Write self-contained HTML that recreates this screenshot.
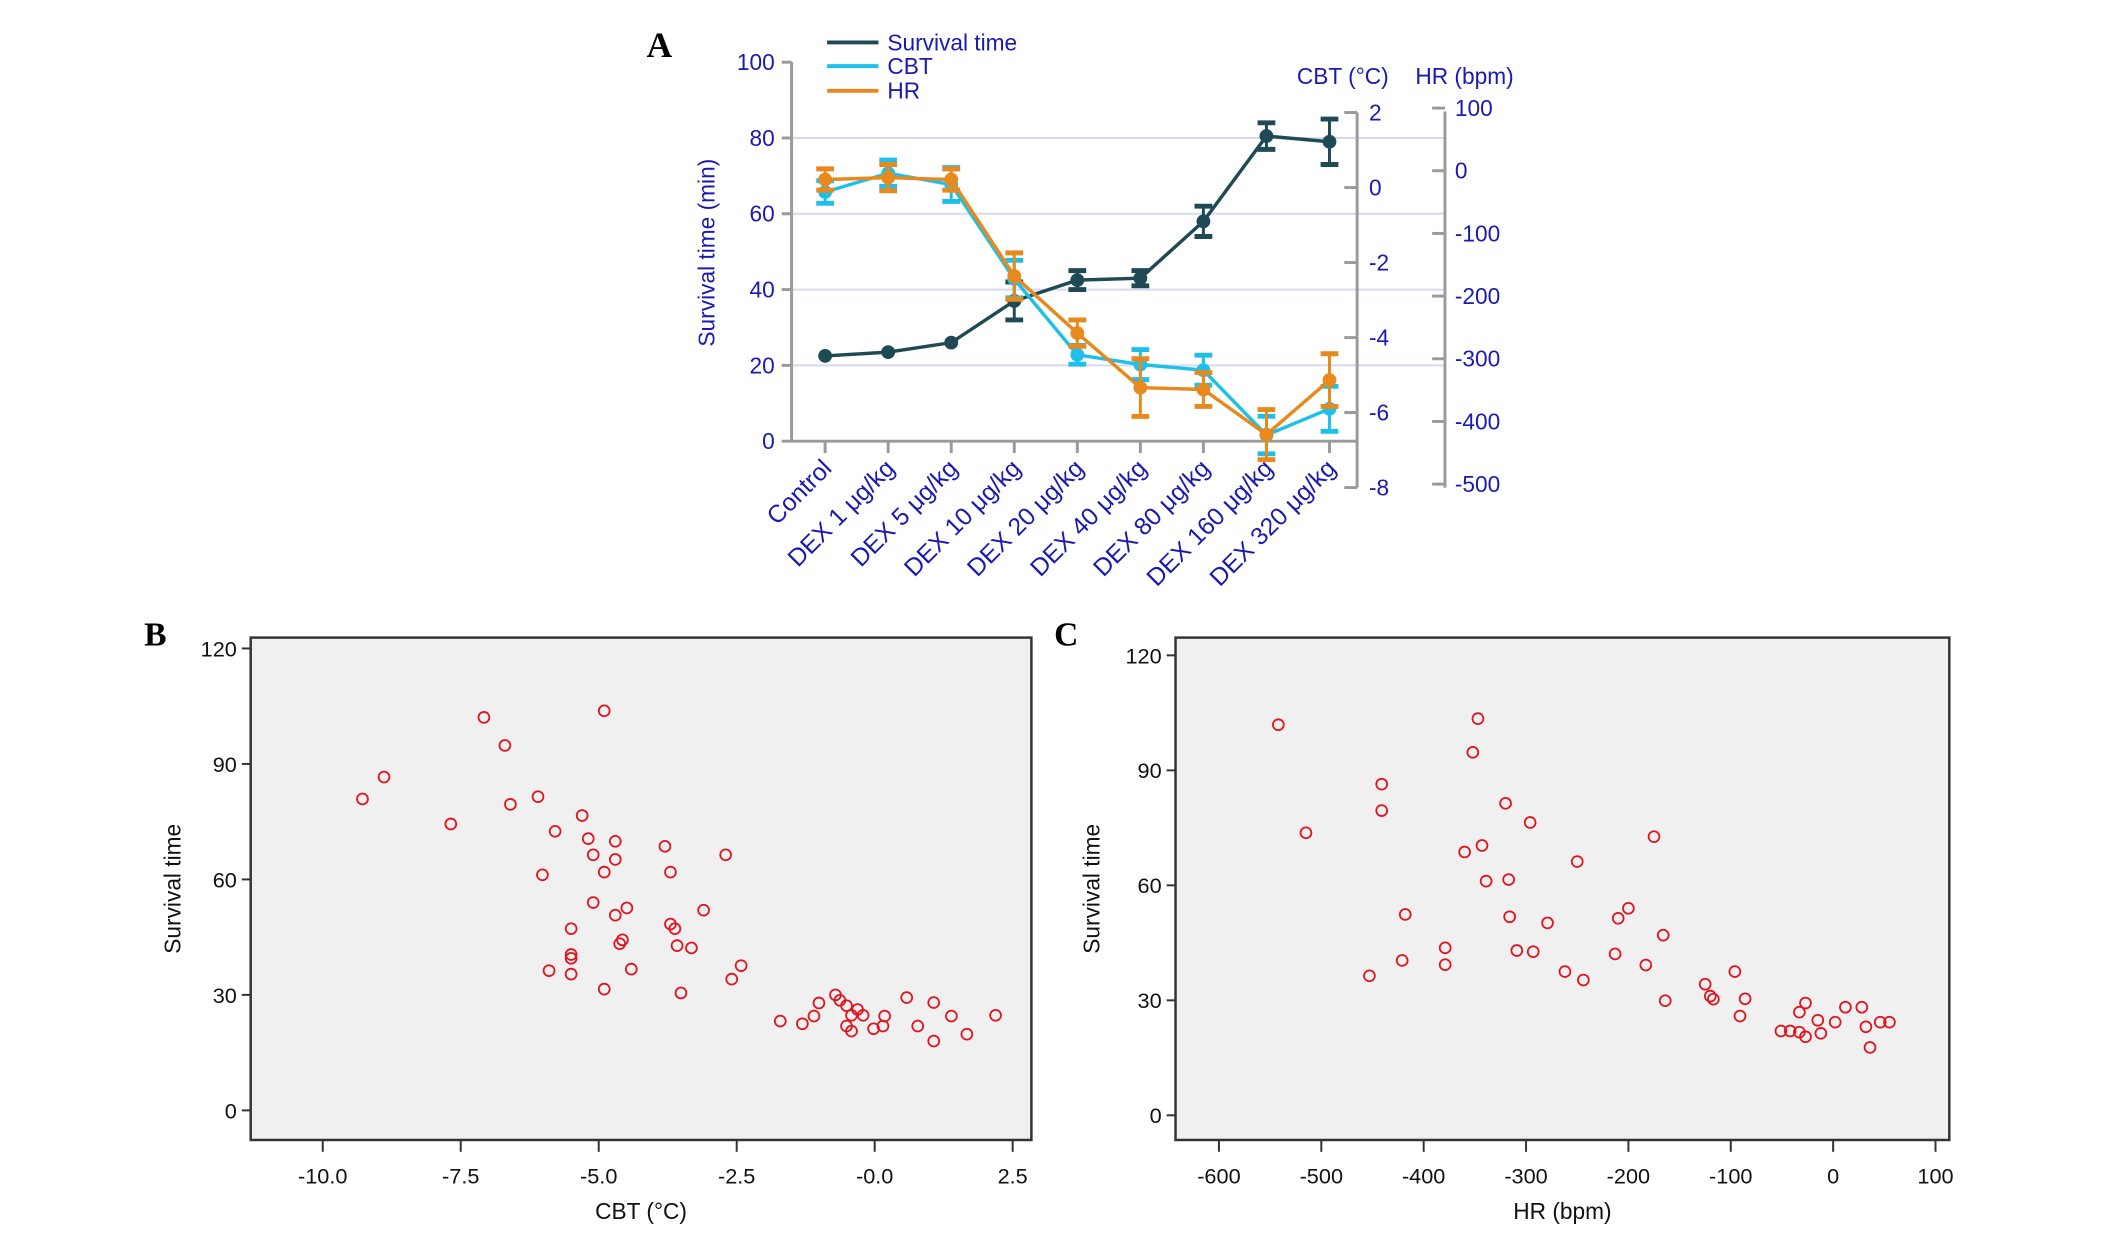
<!DOCTYPE html>
<html><head><meta charset="utf-8"><style>
html,body{margin:0;padding:0;background:#fff;}
svg{display:block;font-family:"Liberation Sans",sans-serif;}
</style></head><body>
<svg id="fig" width="2126" height="1252" viewBox="0 0 2126 1252" xmlns="http://www.w3.org/2000/svg">
<g transform="scale(0.987)">
<g id="A"></g>
<g id="B"></g>
<g id="C"></g>
</g>
</svg>
<script>
const categories=["Control","DEX 1 μg/kg","DEX 5 μg/kg","DEX 10 μg/kg","DEX 20 μg/kg","DEX 40 μg/kg","DEX 80 μg/kg","DEX 160 μg/kg","DEX 320 μg/kg"];
const survival=[22.5,23.5,26,37,42.5,43,58,80.5,79];
const survivalErr=[0,0,0,5,2.5,2,4,3.5,6];
const cbt=[-0.12,0.38,0.08,-2.44,-4.46,-4.72,-4.87,-6.6,-5.9];
const cbtErr=[0.3,0.35,0.45,0.5,0.25,0.4,0.4,0.5,0.6];
const hr=[-14,-11,-14,-168,-259,-346,-349,-421,-334];
const hrErr=[17,21,17,37,21,46,27,40,42];
const leftTicks=[0,20,40,60,80,100];
const cbtTicks=[2,0,-2,-4,-6,-8];
const hrTicks=[100,0,-100,-200,-300,-400,-500];
const bCbt=[-9.28,-8.89,-7.68,-7.08,-6.70,-6.60,-6.10,-6.02,-5.90,-5.79,-5.50,-5.50,-5.50,-5.50,-5.30,-5.19,-5.10,-5.10,-4.90,-4.90,-4.90,-4.70,-4.70,-4.70,-4.62,-4.57,-4.49,-4.41,-3.80,-3.70,-3.70,-3.62,-3.58,-3.51,-3.32,-3.10,-2.70,-2.59,-2.42,-1.71,-1.31,-1.10,-1.01,-0.71,-0.63,-0.51,-0.51,-0.42,-0.42,-0.31,-0.21,-0.02,0.15,0.18,0.58,0.78,1.07,1.07,1.39,1.67,2.19];
const bSurv=[80.9,86.6,74.4,102.1,94.8,79.5,81.5,61.2,36.3,72.5,47.2,40.5,39.5,35.4,76.6,70.6,66.4,54.0,103.8,61.9,31.5,69.9,65.2,50.7,43.3,44.3,52.6,36.7,68.6,61.9,48.4,47.2,42.8,30.5,42.2,52.0,66.4,34.1,37.6,23.2,22.5,24.5,27.9,30.0,28.6,27.2,21.9,24.7,20.6,26.2,24.7,21.2,21.9,24.5,29.3,21.9,28.0,18.0,24.5,19.8,24.7];
const bXTicks=[-10,-7.5,-5,-2.5,0,2.5];
const bXLabels=["-10.0","-7.5","-5.0","-2.5","-0.0","2.5"];
const scatYTicks=[0,30,60,90,120];
const cHr=[-542,-515,-453,-441,-441,-421,-418,-379,-379,-360,-352,-347,-343,-339,-320,-317,-316,-309,-296,-293,-279,-262,-250,-244,-213,-210,-200,-183,-175,-166,-164,-125,-120,-117,-96,-91,-86,-51,-42,-33,-33,-27,-27,-15,-12,2,12,28,32,36,46,55];
const cSurv=[101.9,73.7,36.4,86.4,79.5,40.4,52.4,43.7,39.3,68.7,94.7,103.5,70.4,61.1,81.4,61.5,51.8,43.0,76.4,42.7,50.2,37.5,66.2,35.3,42.1,51.4,54.0,39.2,72.7,47.0,29.9,34.2,31.1,30.3,37.5,25.9,30.4,22.0,22.0,21.7,26.9,20.5,29.3,24.8,21.4,24.3,28.2,28.2,23.1,17.7,24.3,24.3];
const cXTicks=[-600,-500,-400,-300,-200,-100,0,100];

const NS="http://www.w3.org/2000/svg";
function mk(parent,tag,attrs,text){const e=document.createElementNS(NS,tag);for(const k in attrs)e.setAttribute(k,attrs[k]);if(text!==undefined)e.textContent=text;parent.appendChild(e);return e;}

/* ---------- Panel A ---------- */
const A=document.getElementById('A');
const BLUE="#1a1ab0",GRAY="#9a9a9a",SC="#1f4a55",CC="#1ec0ea",HC="#e8891e";
const ax=i=>836+i*(1347-836)/8;
const ay=v=>447-v*(447-63)/100;
const cy=v=>190-v*(494-114)/10;
const hy=v=>173-v*(494-113)/600;
let t;
t=mk(A,'text',{x:655,y:58,'font-family':'Liberation Serif,serif','font-weight':'bold','font-size':36});t.textContent='A';


leftTicks.forEach(v=>{
 if(v>0&&v<100){const g=mk(A,'line',{x1:802,x2:1464,y1:ay(v),y2:ay(v),stroke:'#d8d8f0','stroke-width':2});}
 mk(A,'line',{x1:792,x2:802,y1:ay(v),y2:ay(v),stroke:GRAY,'stroke-width':3});
 const l=mk(A,'text',{x:785,y:ay(v)+8,'text-anchor':'end','font-size':23,fill:BLUE},v);
 
 
});
mk(A,'line',{x1:802,x2:802,y1:63,y2:447,stroke:GRAY,'stroke-width':3});
mk(A,'line',{x1:802,x2:1375,y1:447,y2:447,stroke:GRAY,'stroke-width':3});
t=mk(A,'text',{transform:'translate(724,256) rotate(-90)','text-anchor':'middle','font-size':23,fill:BLUE},'Survival time (min)');


mk(A,'line',{x1:1375,x2:1375,y1:114,y2:494,stroke:GRAY,'stroke-width':3});
cbtTicks.forEach(v=>{mk(A,'line',{x1:1362,x2:1375,y1:cy(v),y2:cy(v),stroke:GRAY,'stroke-width':3});
 const l=mk(A,'text',{x:1387,y:cy(v)+8,'font-size':23,fill:BLUE},v);
 
 });
mk(A,'line',{x1:1464,x2:1464,y1:113,y2:494,stroke:GRAY,'stroke-width':3});
hrTicks.forEach(v=>{mk(A,'line',{x1:1451,x2:1464,y1:hy(v),y2:hy(v),stroke:GRAY,'stroke-width':3});
 const l=mk(A,'text',{x:1474,y:hy(v)+8,'font-size':23,fill:BLUE},v);
 
 });
t=mk(A,'text',{x:1314,y:85,'font-size':23,fill:BLUE},'CBT (°C)');


t=mk(A,'text',{x:1434,y:85,'font-size':23,fill:BLUE},'HR (bpm)');


categories.forEach((c,i)=>{
 mk(A,'line',{x1:ax(i),x2:ax(i),y1:447,y2:459,stroke:GRAY,'stroke-width':3});
 const l=mk(A,'text',{transform:`translate(${ax(i)+8},${476}) rotate(-45)`,'text-anchor':'end','font-size':25,fill:BLUE},c);
 
 
});
function series(vals,errs,yf,col,name){
 const g=mk(A,'g',{});
 
 
 vals.forEach((v,i)=>{if(errs[i]>0){
  mk(g,'line',{x1:ax(i),x2:ax(i),y1:yf(v-errs[i]),y2:yf(v+errs[i]),stroke:col,'stroke-width':3});
  mk(g,'line',{x1:ax(i)-9,x2:ax(i)+9,y1:yf(v-errs[i]),y2:yf(v-errs[i]),stroke:col,'stroke-width':5});
  mk(g,'line',{x1:ax(i)-9,x2:ax(i)+9,y1:yf(v+errs[i]),y2:yf(v+errs[i]),stroke:col,'stroke-width':5});}});
 mk(g,'polyline',{points:vals.map((v,i)=>ax(i)+','+yf(v)).join(' '),fill:'none',stroke:col,'stroke-width':3.5});
 vals.forEach((v,i)=>{const p=mk(g,'circle',{cx:ax(i),cy:yf(v),r:7,fill:col});});
}
series(survival,survivalErr,ay,SC,'survival');
series(cbt,cbtErr,cy,CC,'cbt');
series(hr,hrErr,hy,HC,'hr');
[["Survival time",SC,43],["CBT",CC,67],["HR",HC,92]].forEach(([n,c,y])=>{
 mk(A,'line',{x1:838,x2:890,y1:y,y2:y,stroke:c,'stroke-width':4});
 const l=mk(A,'text',{x:899,y:y+8,'font-size':23,fill:BLUE},n);
 
 
});

/* ---------- Scatter panels ---------- */
function scatter(G,box,xmin,xmax,xpx0,xpx1,xticks,xlabels,ypx0,ypx1,xs,ys,xtitle,label,labelX,ytitleX){
 const sx=v=>xpx0+(v-xmin)*(xpx1-xpx0)/(xmax-xmin);
 const sy=v=>ypx0+(v-0)*(ypx1-ypx0)/120;
 let e=mk(G,'rect',{x:box[0],y:box[1],width:box[2]-box[0],height:box[3]-box[1],fill:'#f0f0f0',stroke:'#333','stroke-width':2.5});
 
 
 scatYTicks.forEach(v=>{mk(G,'line',{x1:box[0]-9,x2:box[0],y1:sy(v),y2:sy(v),stroke:'#333','stroke-width':2});
  const l=mk(G,'text',{x:box[0]-14,y:sy(v)+8,'text-anchor':'end','font-size':22,fill:'#111'},v);
  
  });
 xticks.forEach((v,i)=>{mk(G,'line',{x1:sx(v),x2:sx(v),y1:box[3],y2:box[3]+12,stroke:'#333','stroke-width':2});
  const l=mk(G,'text',{x:sx(v),y:box[3]+44,'text-anchor':'middle','font-size':22,fill:'#111'},xlabels[i]);
  
  });
 e=mk(G,'text',{x:(box[0]+box[2])/2,y:box[3]+80,'text-anchor':'middle','font-size':23,fill:'#111'},xtitle);
 
 
 e=mk(G,'text',{transform:`translate(${ytitleX},${(box[1]+box[3])/2}) rotate(-90)`,'text-anchor':'middle','font-size':23,fill:'#111'},'Survival time');
 
 
 e=mk(G,'text',{x:labelX,y:box[1]+8,'font-family':'Liberation Serif,serif','font-weight':'bold','font-size':34},label);
 
 
 xs.forEach((v,i)=>{const c=mk(G,'circle',{cx:sx(v),cy:sy(ys[i]),r:5.5,fill:'none',stroke:'#e0141e','stroke-width':1.8});
  
  });
}
scatter(document.getElementById('B'),[254,646,1045,1155],-10,2.5,327,1026,bXTicks,bXLabels,1125,657,bCbt,bSurv,'CBT (°C)','B',146,183);
scatter(document.getElementById('C'),[1191,646,1975,1155],-600,100,1235,1961,cXTicks,cXTicks.map(String),1130,664,cHr,cSurv,'HR (bpm)','C',1068,1114);
</script>
</body></html>
